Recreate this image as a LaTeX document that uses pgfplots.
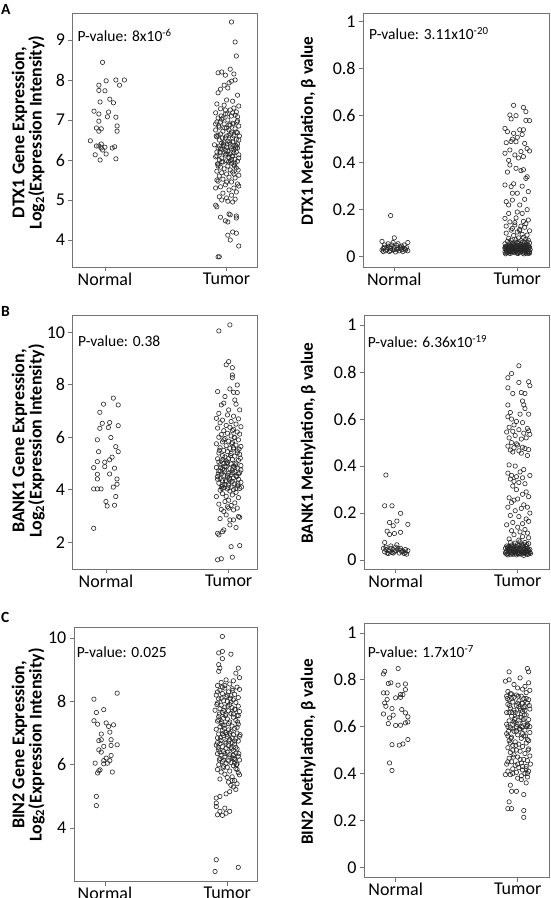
\documentclass[border=0pt]{standalone}
\usepackage{pgfplots}
\pgfplotsset{compat=1.18}
\usepackage{fontspec}
\setmainfont{Carlito}
\pgfplotsset{
  panel/.style={
    scale only axis,
    axis line style={draw=black!55, line width=0.8pt},
    xtick={1,2}, xticklabels={Normal,Tumor},
    tick style={draw=black!55, line width=0.8pt},
    tick align=outside,
    major tick length=4.5pt,
    xtick pos=bottom, ytick pos=left,
    ticklabel style={font=\fontsize{18}{18}\selectfont, text=black},
    xticklabel style={inner sep=1pt},
    yticklabel style={inner sep=3pt},
    /pgf/number format/assume math mode=true,
  },
  pts/.style={only marks, mark=o, mark size=2.2pt, color=black!85, line width=0.6pt},
}
\tikzset{pv/.style={anchor=base west, font=\fontsize{15.5}{15.5}\selectfont, inner sep=0pt}}
\begin{document}
\begin{tikzpicture}[x=1pt,y=1pt]
\path[use as bounding box] (0pt,0pt) rectangle (550pt,898pt);

% ---------- Panel letters and y labels ----------
\node[anchor=base west, inner sep=0pt, font=\bfseries\fontsize{15.5}{15.5}\selectfont] at (1pt,883pt) {A};
\node[anchor=base west, inner sep=0pt, font=\bfseries\fontsize{15.5}{15.5}\selectfont] at (1pt,581.3pt) {B};
\node[anchor=base west, inner sep=0pt, font=\bfseries\fontsize{15.5}{15.5}\selectfont] at (1pt,275pt) {C};

\node[rotate=90, align=center, inner sep=0pt, font=\bfseries\fontsize{18}{15}\selectfont] at (28.2pt,765.5pt) {DTX1 Gene Expression,\\Log\textsubscript{2}(Expression Intensity)};
\node[rotate=90, inner sep=0pt, font=\bfseries\fontsize{17.2}{17.2}\selectfont] at (308.3pt,767pt) {DTX1 Methylation, β value};
\node[rotate=90, align=center, inner sep=0pt, font=\bfseries\fontsize{18}{15}\selectfont] at (28.2pt,457pt) {BANK1 Gene Expression,\\Log\textsubscript{2}(Expression Intensity)};
\node[rotate=90, inner sep=0pt, font=\bfseries\fontsize{17.2}{17.2}\selectfont] at (308.3pt,455pt) {BANK1 Methylation, β value};
\node[rotate=90, align=center, inner sep=0pt, font=\bfseries\fontsize{18}{15}\selectfont] at (28.2pt,153pt) {BIN2 Gene Expression,\\Log\textsubscript{2}(Expression Intensity)};
\node[rotate=90, inner sep=0pt, font=\bfseries\fontsize{17.2}{17.2}\selectfont] at (308.3pt,146pt) {BIN2 Methylation, β value};

% ================= A left: DTX1 expression =================
\begin{axis}[panel, at={(72.7pt,631pt)}, anchor=south west, width=184.3pt, height=254pt,
  xmin=0.735, xmax=2.25, ymin=3.325, ymax=9.675, ytick={4,5,6,7,8,9}]
\addplot[pts] coordinates {
(0.98,8.44)(0.95,7.87)(1.01,7.98)(1.09,8.0)(1.12,7.87)(1.16,8.0)(0.95,7.74)(1.0,7.73)
(0.96,7.45)(1.04,7.52)(1.07,7.43)(0.91,7.22)(1.03,7.2)(0.95,7.15)(1.02,7.08)(1.09,7.07)(0.95,6.97)
(1.1,6.85)(0.93,6.8)(0.97,6.78)(0.95,6.72)(1.1,6.72)
(0.88,6.48)(0.97,6.4)(0.95,6.35)(1.0,6.32)(1.06,6.3)(0.93,6.35)(0.97,6.3)(1.08,6.33)
(0.92,6.13)(1.01,6.15)(0.96,6.0)(1.09,6.03)(0.98,6.25)
};
\addplot[pts] coordinates {
(2.04,9.45)(2.07,8.95)(2.08,8.6)(2.03,8.27)(1.93,8.18)(1.96,8.2)(2.06,8.15)(1.99,8.12)(2.07,8.0)(2.04,7.97)
(2.02,7.93)(1.98,7.87)(2.01,7.8)(1.95,7.77)(2.09,7.62)(1.93,7.68)(2.0,7.5)(2.05,7.47)(1.92,7.4)(1.98,7.37)
(2.1,7.35)(2.06,7.3)(2.03,7.25)(1.95,7.28)(2.08,7.2)(1.91,7.18)(1.99,7.15)(2.04,7.1)(2.07,7.12)(1.93,7.05)
(1.96,7.02)(2.01,7.0)(2.09,6.98)(1.92,6.95)(2.05,6.92)(1.98,6.9)(2.03,6.87)(2.1,6.85)(1.94,6.82)(2.0,6.8)
(2.07,6.78)(1.91,6.75)(1.97,6.72)(2.04,6.7)(2.09,6.68)(1.95,6.65)(2.02,6.62)(2.06,6.6)(1.92,6.58)(1.99,6.55)
(2.08,6.52)(2.1,6.5)(1.94,6.5)(2.01,6.47)(2.05,6.45)(1.96,6.42)(2.03,6.4)(1.9,6.38)(2.07,6.37)(1.98,6.35)
(2.0,6.32)(2.09,6.3)(1.93,6.3)(2.04,6.28)(1.97,6.27)(2.06,6.25)(2.01,6.22)(1.92,6.2)(2.08,6.2)(1.95,6.18)
(2.03,6.15)(2.1,6.13)(1.99,6.12)(2.05,6.1)(1.91,6.08)(1.96,6.05)(2.02,6.05)(2.07,6.02)(1.94,6.0)(2.0,5.98)
(2.09,5.97)(1.97,5.95)(2.04,5.92)(1.93,5.9)(2.06,5.88)(2.01,5.85)(1.95,5.82)(2.08,5.8)(1.98,5.78)(2.03,5.75)
(1.92,5.72)(2.05,5.7)(1.96,5.68)(2.0,5.65)(2.1,5.62)(1.94,5.6)(2.02,5.57)(2.07,5.55)(1.97,5.52)(1.92,5.5)
(1.93,5.47)(2.04,5.45)(2.09,5.4)(1.99,5.38)(2.1,5.35)(1.95,5.33)(2.06,5.3)(1.91,5.3)(2.02,5.25)(2.08,5.2)
(1.97,5.17)(2.04,5.12)(1.94,5.08)(2.0,5.05)(2.07,5.02)(1.96,5.0)(2.01,4.97)(2.05,4.95)(1.91,4.87)(1.92,4.83)
(2.02,4.65)(2.03,4.63)(2.08,4.6)(1.95,4.57)(1.99,4.48)(2.01,4.45)(2.08,4.55)(2.05,4.2)(2.08,4.17)(2.01,4.12)
(2.03,4.0)(2.1,3.85)(1.93,3.58)(1.94,3.58)
(1.95,6.95)(2.02,6.88)(2.08,6.7)(1.93,6.62)(2.0,6.6)(2.05,6.55)(1.98,6.45)(2.09,6.4)(1.94,6.35)(2.03,6.33)
(2.06,6.18)(1.99,6.25)(1.92,6.1)(2.1,6.05)(2.04,6.02)(1.96,5.95)(2.07,5.92)(2.01,6.15)(1.95,6.28)(2.08,6.35)
(2.02,6.75)(1.97,7.05)(2.05,7.18)(1.91,6.9)(2.09,7.08)(1.99,7.25)(2.03,5.98)(1.93,5.85)(2.06,5.65)(2.0,5.45)
(1.915,6.6)(1.935,6.85)(1.955,7.1)(1.975,6.4)(1.995,6.15)(2.015,5.95)(2.035,6.65)(2.055,6.9)(2.075,6.3)(2.095,5.75)
(1.925,5.9)(1.945,6.2)(1.965,6.55)(1.985,6.8)(2.005,7.15)(2.025,6.45)(2.045,6.1)(2.065,5.85)(2.085,6.95)(2.105,6.6)
};
\node[pv, xshift=4.6pt, yshift=-28.7pt] at (rel axis cs:0,1) {P-value: 8x10\textsuperscript{-6}};
\end{axis}

% ================= A right: DTX1 methylation =================
\begin{axis}[panel, at={(363.3pt,631pt)}, anchor=south west, width=185.7pt, height=254pt,
  xmin=0.748, xmax=2.258, ymin=-0.044, ymax=1.037, ytick={0,0.2,0.4,0.6,0.8,1}]
\addplot[pts] coordinates {
(0.97,0.175)(1.0,0.08)(0.9,0.065)(1.11,0.06)(0.92,0.05)(0.95,0.045)(0.98,0.05)(1.02,0.048)(1.05,0.04)(1.08,0.035)
(0.91,0.035)(0.94,0.03)(0.97,0.035)(1.0,0.04)(1.03,0.033)(1.06,0.03)(1.09,0.028)(1.1,0.038)(0.93,0.025)(0.96,0.022)
(0.99,0.028)(1.01,0.02)(1.04,0.025)(1.07,0.022)(0.9,0.028)(0.92,0.04)(0.95,0.055)(0.99,0.06)(1.03,0.055)(1.06,0.045)
(1.08,0.05)(0.94,0.038)(1.0,0.032)(1.05,0.036)(0.97,0.026)(1.02,0.03)(1.09,0.032)(0.91,0.022)(1.11,0.025)(0.96,0.042)
};
\addplot[pts] coordinates {
(1.90,0.02)(1.92,0.018)(1.94,0.022)(1.96,0.02)(1.98,0.017)(2.00,0.021)(2.02,0.019)(2.04,0.023)(2.06,0.018)(2.08,0.02)(2.10,0.022)
(1.91,0.03)(1.93,0.028)(1.95,0.032)(1.97,0.03)(1.99,0.027)(2.01,0.031)(2.03,0.029)(2.05,0.033)(2.07,0.028)(2.09,0.03)(1.90,0.035)
(1.92,0.04)(1.94,0.038)(1.96,0.042)(1.98,0.04)(2.00,0.037)(2.02,0.041)(2.04,0.039)(2.06,0.043)(2.08,0.038)(2.10,0.04)(1.91,0.045)
(1.93,0.05)(1.95,0.048)(1.97,0.052)(1.99,0.05)(2.01,0.047)(2.03,0.051)(2.05,0.049)(2.07,0.053)(2.09,0.048)(1.90,0.055)
(1.94,0.06)(1.96,0.058)(1.98,0.062)(2.00,0.06)(2.02,0.057)(2.04,0.061)(2.06,0.059)(2.08,0.063)(1.92,0.065)(2.10,0.058)
(1.95,0.07)(1.99,0.072)(2.03,0.068)(2.07,0.075)(2.09,0.07)(1.93,0.078)(2.01,0.08)(2.05,0.082)
(1.97,0.09)(2.04,0.095)(1.91,0.1)(2.08,0.092)(2.0,0.105)(2.02,0.11)(1.96,0.12)(2.06,0.125)(2.03,0.13)(1.98,0.145)(2.05,0.15)(1.94,0.148)
(1.915,0.024)(1.955,0.026)(1.995,0.025)(2.035,0.024)(2.075,0.026)(2.095,0.016)(1.935,0.015)(1.975,0.035)(2.015,0.036)(2.055,0.038)
(1.905,0.042)(2.085,0.045)(1.945,0.046)(2.025,0.044)(2.065,0.047)
(1.905,0.012)(1.925,0.025)(1.945,0.014)(1.965,0.033)(1.985,0.024)(2.005,0.013)(2.025,0.027)(2.045,0.015)(2.065,0.031)(2.085,0.013)(2.105,0.03)
(1.9,0.04)(1.92,0.033)(1.94,0.027)(1.96,0.036)(1.98,0.029)(2.0,0.015)(2.02,0.034)(2.04,0.03)(2.06,0.024)(2.08,0.034)(2.1,0.015)
(1.91,0.016)(1.93,0.038)(1.95,0.02)(1.97,0.022)(1.99,0.04)(2.01,0.018)(2.03,0.036)(2.05,0.026)(2.07,0.02)(2.09,0.023)
(1.915,0.035)(1.955,0.04)(1.995,0.033)(2.035,0.041)(2.075,0.04)(1.935,0.042)(2.015,0.028)(2.055,0.012)(2.095,0.038)(1.975,0.045)
(1.97,0.644)(2.05,0.635)(2.07,0.617)(1.94,0.603)(1.95,0.586)(2.1,0.579)(1.9,0.546)(1.92,0.532)(2.02,0.54)(2.05,0.54)
(1.97,0.525)(2.0,0.508)(1.91,0.485)(1.99,0.489)(2.06,0.482)(1.94,0.454)(1.9,0.44)(1.98,0.433)(2.05,0.426)(2.03,0.447)
(1.94,0.39)(1.99,0.376)(2.03,0.366)(2.07,0.333)(1.9,0.305)(1.95,0.298)(2.09,0.277)(1.91,0.234)(1.96,0.241)(2.06,0.244)
(1.93,0.184)(2.04,0.184)(1.9,0.163)(2.09,0.156)(1.98,0.135)(1.95,0.113)(2.02,0.116)
(1.96,0.5)(2.08,0.46)(2.01,0.42)(1.92,0.36)(2.04,0.3)(2.0,0.27)(2.08,0.34)(1.97,0.31)(2.02,0.22)(2.08,0.2)
(1.93,0.22)(2.0,0.19)(1.99,0.165)(2.07,0.14)(1.91,0.13)(2.1,0.11)(1.96,0.27)(2.05,0.37)(1.93,0.41)(2.1,0.45)
(2.07,0.58)(1.99,0.6)(1.95,0.49)(2.04,0.52)
};
\node[pv, xshift=5.7pt, yshift=-26.3pt] at (rel axis cs:0,1) {P-value: 3.11x10\textsuperscript{-20}};
\end{axis}

% ================= B left: BANK1 expression =================
\begin{axis}[panel, at={(72.7pt,329pt)}, anchor=south west, width=184.3pt, height=253.3pt,
  xmin=0.729, xmax=2.231, ymin=0.98, ymax=10.63, ytick={2,4,6,8,10}]
\addplot[pts] coordinates {
(1.06,7.49)(0.98,7.26)(1.1,7.23)(0.95,6.95)(1.03,6.56)(0.97,6.53)(0.95,6.34)(1.02,6.37)(1.1,6.44)(0.93,5.9)
(1.04,5.99)(1.08,5.64)(0.94,5.45)(1.1,5.45)(1.05,5.24)(0.93,5.07)(0.99,5.05)(1.03,5.14)(0.9,4.84)(0.99,4.88)
(1.07,4.82)(0.93,4.59)(1.03,4.6)(0.93,4.41)(1.09,4.41)(0.9,4.03)(0.93,4.03)(0.96,4.03)(1.06,4.1)(1.09,4.21)
(1.0,3.55)(1.01,3.38)(1.07,3.41)(1.08,3.74)(0.9,2.53)
};
\addplot[pts] coordinates {
(1.92,10.05)(2.01,10.28)(2.0,8.88)(1.98,8.76)(2.03,8.65)(2.03,8.37)(2.03,8.27)(2.07,7.99)(1.91,7.74)(2.01,7.84)
(2.04,7.71)(2.07,7.7)(1.97,7.55)(2.05,7.42)(1.94,7.23)(1.96,7.3)(2.06,7.26)(2.09,7.04)(2.0,7.04)(1.92,6.91)(1.9,6.72)
(1.99,6.85)(2.04,6.8)(2.08,6.7)(1.95,6.65)(2.02,6.6)(1.93,6.55)(2.06,6.5)(1.98,6.45)(2.1,6.4)(2.01,6.38)
(1.91,6.35)(2.04,6.3)(1.96,6.25)(2.07,6.2)(1.99,6.15)(2.09,6.12)(1.94,6.1)(2.02,6.05)(1.92,6.0)(2.05,5.98)
(1.97,5.95)(2.08,5.9)(2.0,5.85)(1.95,5.82)(2.03,5.8)(1.9,5.75)(2.06,5.7)(1.98,5.68)(2.1,5.65)(1.93,5.6)
(2.01,5.58)(2.04,5.55)(1.96,5.5)(2.07,5.48)(1.99,5.45)(1.92,5.4)(2.02,5.38)(2.09,5.35)(1.95,5.3)(2.05,5.28)
(1.97,5.25)(2.0,5.2)(1.91,5.18)(2.03,5.15)(2.08,5.12)(1.94,5.1)(1.99,5.05)(2.06,5.02)(1.96,5.0)(2.02,4.98)
(1.93,4.95)(2.1,4.92)(2.04,4.9)(1.98,4.88)(1.9,4.85)(2.07,4.82)(2.01,4.8)(1.95,4.78)(2.03,4.75)(1.92,4.72)
(2.05,4.7)(1.97,4.68)(2.09,4.65)(2.0,4.62)(1.94,4.6)(2.02,4.58)(1.96,4.55)(2.06,4.52)(1.91,4.5)(1.99,4.48)
(2.04,4.45)(1.93,4.42)(2.08,4.4)(2.01,4.38)(1.95,4.35)(2.03,4.32)(1.98,4.3)(2.1,4.28)(1.92,4.25)(2.05,4.22)
(1.97,4.2)(2.0,4.18)(2.07,4.15)(1.94,4.12)(2.02,4.1)(1.96,4.08)(2.09,4.05)(1.99,4.03)(2.04,4.0)(1.93,3.98)
(2.01,3.95)(2.06,3.9)(1.95,3.85)(2.03,3.8)(1.98,3.75)(1.9,3.74)(2.08,3.7)(2.0,3.6)(1.97,3.55)(2.05,3.5)
(1.92,3.45)(2.02,3.4)(1.99,3.35)(2.07,3.3)(1.94,3.25)(2.04,3.23)(1.96,3.17)(1.98,3.04)(2.0,3.3)(2.09,2.95)
(1.93,2.9)(2.01,2.85)
(2.08,2.98)(2.04,2.85)(2.01,2.66)(2.06,2.56)(1.96,2.47)(1.91,2.34)(1.92,2.28)(1.95,2.4)(2.02,1.83)(2.09,1.87)
(1.91,1.33)(1.94,1.37)(2.03,1.43)
(1.97,4.9)(2.05,4.85)(1.93,4.7)(2.08,4.6)(1.99,4.55)(2.02,4.3)(1.95,4.15)(2.06,4.05)(1.91,4.4)(2.1,4.75)
(1.98,5.1)(2.04,5.6)(1.96,5.9)(2.03,6.25)(2.07,5.4)(1.92,5.05)
(1.915,4.6)(1.935,4.85)(1.955,5.15)(1.975,4.35)(1.995,4.1)(2.015,5.3)(2.035,4.65)(2.055,4.95)(2.075,4.25)(2.095,5.2)
(1.925,5.5)(1.945,4.05)(1.965,4.75)(1.985,5.0)(2.005,4.45)(2.025,5.75)(2.045,6.0)(2.065,4.5)(2.085,5.55)(2.105,4.1)
};
\node[pv, xshift=5.3pt, yshift=-31pt] at (rel axis cs:0,1) {P-value: 0.38};
\end{axis}

% ================= B right: BANK1 methylation =================
\begin{axis}[panel, at={(364.3pt,329pt)}, anchor=south west, width=184.7pt, height=253.3pt,
  xmin=0.743, xmax=2.257, ymin=-0.038, ymax=1.04, ytick={0,0.2,0.4,0.6,0.8,1}]
\addplot[pts] coordinates {
(0.92,0.362)(0.91,0.231)(0.97,0.231)(1.04,0.199)(0.95,0.16)(1.01,0.166)(1.1,0.152)(0.98,0.146)(0.93,0.123)(0.95,0.109)
(0.99,0.113)(1.04,0.118)(0.91,0.075)
(0.9,0.05)(0.92,0.045)(0.94,0.04)(0.96,0.05)(0.98,0.045)(1.0,0.04)(1.02,0.048)(1.04,0.042)(1.06,0.038)(1.08,0.045)
(1.1,0.04)(0.91,0.035)(0.93,0.03)(0.95,0.038)(0.97,0.032)(0.99,0.035)(1.01,0.065)(1.03,0.03)(1.05,0.035)(1.07,0.028)
(1.09,0.025)(0.96,0.06)(0.92,0.055)(1.0,0.055)(0.98,0.03)(1.04,0.05)(1.08,0.032)(0.94,0.028)
};
\addplot[pts] coordinates {
(2.01,0.827)(1.95,0.794)(1.92,0.776)(2.09,0.759)(2.01,0.756)(2.1,0.742)(1.92,0.733)(2.03,0.713)(1.96,0.709)(2.06,0.709)
(2.04,0.677)(1.92,0.66)(2.05,0.66)(2.06,0.645)(1.94,0.628)(2.09,0.621)(2.02,0.621)(1.92,0.61)(1.95,0.6)(1.99,0.59)
(2.04,0.585)(1.97,0.575)(1.93,0.565)(2.08,0.56)(2.09,0.55)(2.01,0.555)(1.96,0.548)(1.91,0.545)(2.05,0.54)(2.1,0.535)
(1.98,0.53)(1.93,0.52)(2.07,0.52)(2.03,0.515)(1.95,0.5)(1.99,0.495)(2.0,0.49)(1.92,0.485)(2.04,0.48)(1.97,0.478)
(2.06,0.475)(2.09,0.47)(1.94,0.468)(2.01,0.465)(1.96,0.46)(2.03,0.455)(2.08,0.445)(2.1,0.36)(1.98,0.4)(1.93,0.405)
(2.05,0.385)(2.02,0.375)(1.92,0.37)(1.95,0.36)(1.99,0.355)(2.04,0.35)(1.94,0.345)(1.97,0.335)(2.01,0.33)(2.06,0.325)
(1.96,0.315)(1.99,0.3)(2.07,0.29)(2.04,0.28)(2.09,0.27)(1.93,0.265)(2.0,0.26)(1.97,0.255)(1.95,0.245)(2.05,0.235)
(1.92,0.225)(2.03,0.22)(2.08,0.225)(1.98,0.21)(2.1,0.2)(1.94,0.19)(2.01,0.185)(2.07,0.175)(2.09,0.165)(1.96,0.16)
(2.04,0.155)(1.91,0.15)(2.0,0.14)(2.06,0.13)(1.95,0.125)(2.02,0.12)(2.08,0.115)(1.97,0.108)(2.04,0.1)(2.09,0.095)
(1.93,0.09)(2.01,0.085)
(1.90,0.03)(1.92,0.028)(1.94,0.034)(1.96,0.03)(1.98,0.027)(2.00,0.032)(2.02,0.029)(2.04,0.035)(2.06,0.028)(2.08,0.031)
(2.10,0.033)(1.91,0.04)(1.93,0.038)(1.95,0.044)(1.97,0.04)(1.99,0.037)(2.01,0.042)(2.03,0.039)(2.05,0.045)(2.07,0.038)
(2.09,0.041)(1.90,0.05)(1.92,0.048)(1.94,0.053)(1.96,0.05)(1.98,0.047)(2.00,0.052)(2.02,0.049)(2.04,0.055)(2.06,0.048)
(2.08,0.05)(2.10,0.045)(1.91,0.06)(1.93,0.058)(1.95,0.064)(1.97,0.06)(1.99,0.057)(2.01,0.062)(2.03,0.068)(2.05,0.065)
(2.07,0.058)(2.09,0.07)(1.94,0.075)(1.98,0.072)(2.02,0.078)(2.06,0.075)(1.92,0.022)(1.99,0.022)(2.05,0.02)(2.08,0.024)
(1.96,0.025)(2.03,0.025)
(1.905,0.035)(1.925,0.045)(1.945,0.025)(1.965,0.042)(1.985,0.034)(2.005,0.027)(2.025,0.046)(2.045,0.03)(2.065,0.04)(2.085,0.036)(2.105,0.028)
(1.91,0.025)(1.93,0.05)(1.95,0.03)(1.97,0.033)(1.99,0.046)(2.01,0.026)(2.03,0.034)(2.05,0.032)(2.07,0.048)(2.09,0.026)
(1.915,0.055)(1.955,0.055)(1.995,0.065)(2.035,0.06)(2.075,0.066)
};
\node[pv, xshift=3.4pt, yshift=-32pt] at (rel axis cs:0,1) {P-value: 6.36x10\textsuperscript{-19}};
\end{axis}

% ================= C left: BIN2 expression =================
\begin{axis}[panel, at={(74pt,16.7pt)}, anchor=south west, width=183pt, height=254pt,
  xmin=0.747, xmax=2.243, ymin=2.32, ymax=10.34, ytick={4,6,8,10}]
\addplot[pts] coordinates {
(0.91,8.07)(1.1,8.26)(0.99,7.74)(0.93,7.65)(0.91,7.39)(0.94,7.28)(1.01,7.32)(1.03,7.21)(1.07,7.26)(0.97,6.97)
(1.04,7.03)(0.95,6.76)(0.97,6.79)(1.05,6.79)(1.1,6.63)(1.05,6.61)(0.99,6.58)(0.95,6.47)(0.97,6.4)(1.01,6.21)
(0.99,6.13)(1.04,6.13)(1.05,6.29)(0.99,6.03)(1.02,6.05)(0.92,6.05)(0.96,5.84)(0.95,5.81)(0.94,5.74)(1.06,5.77)
(0.93,5.0)(0.93,4.71)
};
\addplot[pts] coordinates {
(1.96,10.05)(1.93,9.53)(1.96,9.58)(2.03,9.49)(1.96,9.35)(1.93,9.16)(1.94,9.05)(1.93,8.95)(2.09,9.05)(2.07,8.89)
(2.1,8.75)(1.99,8.68)(2.05,8.65)(1.95,8.6)(2.02,8.55)(1.92,8.5)(2.08,8.45)(1.98,8.42)(2.04,8.4)(2.1,8.38)
(1.94,8.35)(2.01,8.3)(1.96,8.25)(2.06,8.22)(1.91,8.2)(2.03,8.18)(1.99,8.15)(2.09,8.12)(1.93,8.08)(2.05,8.05)
(1.97,8.02)(2.0,8.0)(2.07,7.97)(1.92,7.95)(2.02,7.9)(1.95,7.88)(2.09,7.85)(1.98,7.82)(2.04,7.8)(1.94,7.77)
(2.06,7.75)(1.9,7.72)(2.01,7.7)(2.1,7.68)(1.96,7.65)(2.03,7.62)(1.99,7.6)(2.08,7.55)(1.93,7.52)(2.05,7.5)
(1.97,7.47)(2.0,7.45)(2.07,7.4)(1.92,7.38)(2.02,7.35)(1.95,7.3)(2.09,7.28)(1.98,7.25)(2.04,7.22)(1.94,7.2)
(2.06,7.15)(1.91,7.12)(2.01,7.1)(1.96,7.08)(2.03,7.05)(1.99,7.02)(2.08,7.0)(1.93,6.97)(2.05,6.95)(1.97,6.92)
(2.1,6.9)(2.0,6.88)(1.92,6.85)(2.07,6.82)(2.02,6.8)(1.95,6.77)(2.09,6.75)(1.98,6.72)(2.04,6.7)(1.94,6.67)
(2.06,6.65)(1.91,6.62)(2.01,6.6)(1.96,6.57)(2.03,6.55)(1.99,6.52)(2.08,6.5)(1.93,6.47)(2.05,6.45)(1.97,6.42)
(2.0,6.4)(2.07,6.37)(1.92,6.35)(2.02,6.32)(1.95,6.3)(2.09,6.27)(1.98,6.25)(2.04,6.22)(1.94,6.2)(2.06,6.17)
(2.1,6.15)(2.01,6.12)(1.96,6.1)(2.03,6.07)(1.99,6.05)(2.08,6.02)(1.93,6.0)(2.05,5.97)(1.97,5.95)(2.0,5.92)
(2.07,5.88)(1.92,5.85)(2.02,5.8)(1.95,5.77)(2.09,5.75)(1.98,5.7)(2.1,5.68)(2.04,5.62)(1.94,5.55)(2.06,5.5)
(2.01,5.45)(2.08,5.4)(2.03,5.35)(2.05,5.3)(2.07,5.22)(2.02,5.15)(1.99,5.08)
(1.91,4.95)(1.94,5.0)(1.91,4.79)(1.91,4.68)(1.94,4.53)(1.98,4.63)(1.99,4.47)(2.02,4.53)(1.92,4.42)(1.96,4.4)
(1.91,3.0)(1.9,2.63)(2.09,2.76)
(1.95,8.1)(2.03,7.98)(1.97,7.72)(2.05,7.6)(1.93,7.42)(2.01,7.3)(2.08,7.18)(1.96,6.98)(2.04,6.85)(1.99,6.68)
(2.07,6.55)(1.94,6.4)(2.02,6.25)(1.97,6.15)(2.06,6.05)(1.92,6.7)(2.09,7.55)(2.0,8.2)(1.98,8.5)(2.05,6.3)
(1.915,7.9)(1.935,7.6)(1.955,7.35)(1.975,7.15)(1.995,6.95)(2.015,6.75)(2.035,6.5)(2.055,6.2)(2.075,6.0)(2.095,6.35)
(1.925,6.55)(1.945,6.85)(1.965,7.25)(1.985,7.55)(2.005,7.85)(2.025,8.1)(2.045,8.35)(2.065,7.75)(2.085,7.35)(2.105,6.95)
(1.935,6.15)(1.965,5.9)(2.0,5.6)(2.04,5.5)(2.08,5.85)(1.92,8.3)(1.96,8.45)(2.02,7.0)(2.06,6.75)(1.98,6.35)
};
\node[pv, xshift=2.7pt, yshift=-30pt] at (rel axis cs:0,1) {P-value: 0.025};
\end{axis}

% ================= C right: BIN2 methylation =================
\begin{axis}[panel, at={(364.3pt,20.7pt)}, anchor=south west, width=184.7pt, height=254pt,
  xmin=0.743, xmax=2.257, ymin=-0.043, ymax=1.041, ytick={0,0.2,0.4,0.6,0.8,1}]
\addplot[pts] coordinates {
(1.02,0.848)(0.91,0.836)(0.9,0.825)(0.96,0.787)(0.94,0.784)(1.02,0.777)(1.08,0.782)(1.08,0.758)(0.9,0.744)(0.93,0.744)
(1.04,0.737)(1.06,0.737)(1.0,0.723)(1.04,0.725)(0.93,0.716)(0.91,0.701)(0.92,0.687)(0.97,0.677)(1.05,0.673)(1.08,0.659)
(0.9,0.654)(0.98,0.649)(0.95,0.637)(1.1,0.642)(1.1,0.62)(0.94,0.613)(1.0,0.605)(1.04,0.606)(1.08,0.616)(0.97,0.523)
(1.03,0.521)(1.06,0.526)(1.1,0.545)(0.95,0.445)(0.97,0.413)
};
\addplot[pts] coordinates {
(1.93,0.834)(2.08,0.848)(2.09,0.834)(2.02,0.808)(1.9,0.794)(1.93,0.8)(2.09,0.787)(2.06,0.772)(1.97,0.78)(2.0,0.765)
(2.04,0.76)(1.92,0.75)(2.1,0.755)(1.95,0.74)(2.07,0.745)(1.99,0.735)(2.03,0.73)(1.91,0.73)(1.97,0.725)(2.05,0.72)
(2.09,0.715)(1.93,0.715)(2.01,0.71)(1.96,0.705)(2.04,0.7)(2.08,0.7)(1.92,0.695)(1.99,0.69)(2.06,0.685)(1.94,0.68)
(2.02,0.678)(2.1,0.675)(1.97,0.67)(2.04,0.665)(1.91,0.66)(2.0,0.655)(2.07,0.65)(1.95,0.645)(2.03,0.64)(1.98,0.635)
(2.09,0.63)(1.93,0.625)(2.05,0.62)(2.01,0.615)(1.96,0.61)(2.08,0.605)(1.92,0.6)(1.99,0.6)(2.04,0.598)(1.94,0.595)
(2.02,0.59)(2.06,0.585)(1.97,0.58)(2.1,0.575)(1.91,0.57)(2.0,0.565)(2.05,0.56)(1.95,0.555)(2.03,0.55)(2.08,0.545)
(1.93,0.54)(1.98,0.535)(2.07,0.53)(2.01,0.525)(1.96,0.52)(2.04,0.515)(1.92,0.51)(2.09,0.505)(1.99,0.5)(2.02,0.495)
(1.94,0.49)(2.06,0.485)(1.97,0.48)(2.1,0.475)(2.0,0.47)(1.93,0.465)(2.05,0.46)(2.08,0.455)(1.95,0.45)(2.03,0.445)
(1.91,0.44)(1.98,0.435)(2.07,0.43)(2.01,0.425)(1.96,0.42)(2.04,0.415)(2.09,0.41)(1.92,0.41)(1.99,0.405)(2.06,0.4)
(1.94,0.395)(1.9,0.395)(2.03,0.39)(2.08,0.385)(2.03,0.374)(2.07,0.36)(1.94,0.35)(1.95,0.324)(1.99,0.324)(2.05,0.31)
(1.93,0.279)(1.92,0.25)(1.95,0.25)(2.05,0.242)(2.05,0.213)
(1.95,0.72)(2.0,0.7)(2.06,0.67)(1.93,0.66)(2.02,0.64)(1.97,0.62)(2.08,0.61)(1.99,0.58)(2.04,0.57)(1.92,0.56)
(2.1,0.6)(1.96,0.59)(2.01,0.685)(2.07,0.72)(1.94,0.74)(2.03,0.6)(1.98,0.66)(2.05,0.68)(1.91,0.61)(2.09,0.54)
(1.96,0.5)(2.02,0.46)(2.07,0.42)(1.94,0.53)(2.0,0.44)
(1.915,0.72)(1.935,0.69)(1.955,0.66)(1.975,0.63)(1.995,0.61)(2.015,0.59)(2.035,0.7)(2.055,0.65)(2.075,0.6)(2.095,0.69)
(1.925,0.58)(1.945,0.55)(1.965,0.47)(1.985,0.52)(2.005,0.73)(2.025,0.67)(2.045,0.63)(2.065,0.56)(2.085,0.5)(2.105,0.44)
(1.92,0.45)(1.96,0.4)(2.0,0.38)(2.04,0.43)(2.08,0.4)
};
\node[pv, xshift=3.4pt, yshift=-34pt] at (rel axis cs:0,1) {P-value: 1.7x10\textsuperscript{-7}};
\end{axis}
\end{tikzpicture}
\end{document}
